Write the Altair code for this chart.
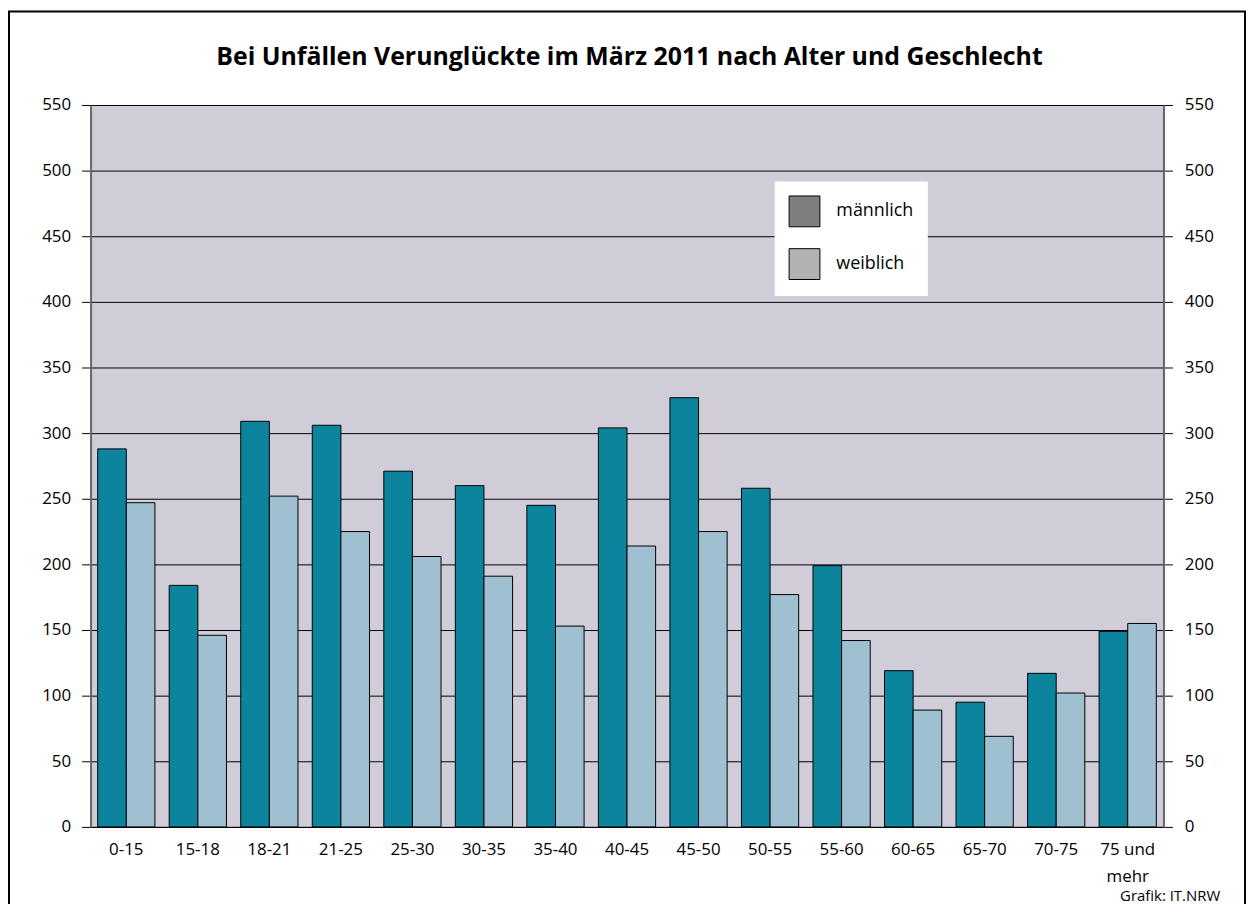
import altair as alt
import pandas as pd

groups = ["0-15", "15-18", "18-21", "21-25", "25-30", "30-35", "35-40", "40-45",
          "45-50", "50-55", "55-60", "60-65", "65-70", "70-75", "75 und mehr"]
maennlich = [288, 184, 309, 306, 271, 260, 245, 304, 327, 258, 199, 119, 95, 117, 149]
weiblich = [247, 146, 252, 225, 206, 191, 153, 214, 225, 177, 142, 89, 69, 102, 155]
series = ["männlich", "weiblich"]
bar_colors = ["#0d849e", "#9fc0d0"]
legend_colors = ["#7f7f7f", "#b2b2b2"]
y_ticks = list(range(0, 551, 50))
title_text = "Bei Unfällen Verunglückte im März 2011 nach Alter und Geschlecht"
source_text = "Grafik: IT.NRW"

rows = []
for g, m, w in zip(groups, maennlich, weiblich):
    rows.append({"Alter": g, "Geschlecht": series[0], "Anzahl": m})
    rows.append({"Alter": g, "Geschlecht": series[1], "Anzahl": w})
df = pd.DataFrame(rows)
one = pd.DataFrame({"k": [0]})

W, H = 1079, 726
FONT = "Open Sans"
FS = 17

x_enc = alt.X(
    "Alter:N", sort=groups,
    scale=alt.Scale(paddingInner=0.2, paddingOuter=0.1),
    axis=alt.Axis(title=None, labelAngle=0, ticks=False, tickSize=0, domain=True,
                  domainColor="black", domainWidth=1, labelPadding=15,
                  labelExpr="datum.value == '75 und mehr' ? ['75 und', 'mehr'] : datum.value",
                  labelLineHeight=27, labelFontSize=FS, labelFont=FONT, labelColor="black",
                  grid=False),
)
xo_enc = alt.XOffset("Geschlecht:N", sort=series,
                     scale=alt.Scale(paddingInner=0, paddingOuter=0))
yscale = alt.Scale(domain=[0, 550], nice=False)

# bar colours: data-driven domain (sorted: männlich, weiblich)
bars = alt.Chart(df).mark_bar(stroke="black", strokeWidth=1).encode(
    x=x_enc,
    xOffset=xo_enc,
    y=alt.Y("Anzahl:Q", scale=yscale,
            axis=alt.Axis(orient="left", title=None, values=y_ticks, grid=True,
                          gridColor="black", gridWidth=1, tickSize=9, tickColor="black",
                          labelPadding=11, labelFontSize=FS, labelFont=FONT,
                          labelColor="black", domainColor="#666666", domainWidth=2)),
    fill=alt.Fill("Geschlecht:N", scale=alt.Scale(range=bar_colors), legend=None),
)

# invisible layer carrying the right-hand axis and the (grey) legend
legend_layer = alt.Chart(df).mark_square(size=1, opacity=0, stroke="black",
                                         strokeWidth=1, filled=True).encode(
    x=x_enc,
    xOffset=xo_enc,
    y=alt.Y("Anzahl:Q", scale=yscale,
            axis=alt.Axis(orient="right", title=None, values=y_ticks, grid=False,
                          tickSize=9, tickColor="black", labelPadding=12,
                          labelFontSize=FS, labelFont=FONT, labelColor="black",
                          domainColor="#666666", domainWidth=2)),
    color=alt.Color("Geschlecht:N", scale=alt.Scale(domain=series, range=legend_colors),
                    legend=alt.Legend(title=None, orient="none", legendX=688, legendY=77,
                                      direction="vertical", fillColor="white", padding=14,
                                      symbolType="square", symbolSize=961,
                                      symbolStrokeColor="black", symbolStrokeWidth=1,
                                      symbolOpacity=1, labelFontSize=18, labelFont=FONT,
                                      labelColor="black", labelOffset=16, rowPadding=17)),
)

frame = alt.Chart(one).mark_rect(fill="transparent", stroke="black", strokeWidth=2).encode(
    x=alt.value(-82), x2=alt.value(1161), y=alt.value(-94), y2=alt.value(840)
)

title = alt.Chart(one).mark_text(text=title_text, align="center", baseline="alphabetic",
                                 font=FONT, fontSize=25, fontWeight="bold",
                                 color="black").encode(
    x=alt.value(542), y=alt.value(-40)
)

source = alt.Chart(one).mark_text(text=source_text, align="right", baseline="alphabetic",
                                  font=FONT, fontSize=15, color="black").encode(
    x=alt.value(1136), y=alt.value(801)
)

chart = alt.layer(bars, legend_layer, frame, title, source).resolve_scale(
    y="shared"
).resolve_axis(
    y="independent"
).properties(
    width=W, height=H,
    background="white",
    autosize=alt.AutoSizeParams(type="none"),
    padding={"left": 83, "top": 95, "right": 86, "bottom": 75},
).configure_view(
    fill="#d0cdd8", stroke=None
)

chart.save("out.html", embed_options={"renderer": "svg", "actions": False})
